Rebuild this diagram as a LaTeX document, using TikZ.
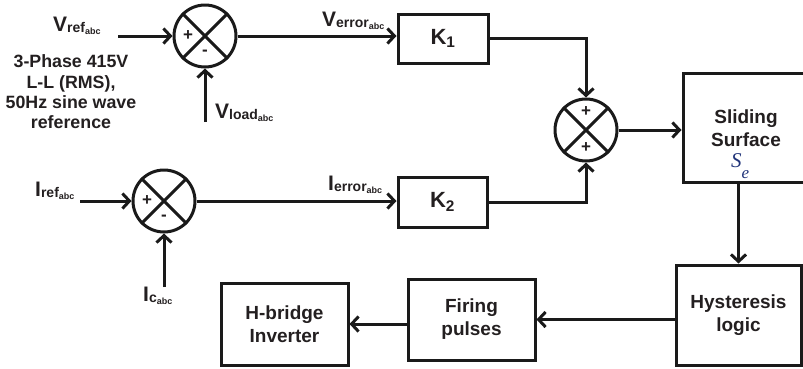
\documentclass[tikz,border=0pt]{standalone}
\usepackage{fontspec}
\setmainfont{Liberation Sans}
\newfontfamily\serifit{Liberation Serif}
\usepackage{xcolor}
\usepackage{tikz}
\usetikzlibrary{calc,arrows.meta,positioning}
\definecolor{linec}{HTML}{1A1A1A}
\definecolor{textc}{HTML}{231F20}
\definecolor{sec}{HTML}{22357A}
\tikzset{
  ar/.style={-{Straight Barb[length=7pt,width=15pt]},line width=3pt,linec},
  wire/.style={line width=3pt,linec},
  blk/.style={draw=linec,line width=3pt,align=center,inner sep=0pt,text=textc,font=\fontsize{19}{23}\selectfont\bfseries},
  sumc/.style={draw=linec,circle,line width=3pt,minimum size=62pt,inner sep=0pt},
  lbl/.style={font=\fontsize{17.8}{20.3}\selectfont\bfseries,text=textc,inner sep=0pt},
  sgn/.style={font=\fontsize{17}{17}\selectfont\bfseries,text=textc,inner sep=0pt}
}
\newcommand{\sigl}[2]{{\fontsize{21}{21}\selectfont #1}\raisebox{-1pt}{\fontsize{14}{14}\selectfont #2\raisebox{-2pt}{\fontsize{9}{9}\selectfont abc}}}
\newcommand{\crossx}[1]{\draw[wire] (#1.45)--(#1.225) (#1.135)--(#1.315);}
\begin{document}
\begin{tikzpicture}[x=1pt,y=-1pt]
\useasboundingbox (0,0) rectangle (803,368);
% summing junctions
\node[sumc] (sv) at (205,36) {};
\node[sumc] (si) at (164,201) {};
\node[sumc] (sk) at (586,130) {};
\foreach \s in {sv,si,sk} {\crossx{\s}}
\node[sgn] (svp) at ($(sv)+(-17,0)$) {+};
\node[sgn] (svm) at ($(sv)+(0,17)$) {-};
\node[sgn] (sip) at ($(si)+(-17,0)$) {+};
\node[sgn] (sim) at ($(si)+(0,17)$) {-};
\node[sgn] (skt) at ($(sk)+(0,-18)$) {+};
\node[sgn] (skb) at ($(sk)+(0,18)$) {+};
% blocks
\node[blk,minimum width=90pt,minimum height=49pt,font=\fontsize{22}{22}\selectfont\bfseries] (k1) at (443,38.5) {K\textsubscript{1}};
\node[blk,minimum width=89pt,minimum height=50pt,font=\fontsize{22}{22}\selectfont\bfseries] (k2) at (442.5,202) {K\textsubscript{2}};
\node[blk,minimum width=140pt,minimum height=109pt] (slide) at (753,127.5) {};
\node[blk,draw=none] (slidet) at (746,128) {Sliding\\Surface};
\node[text=sec,inner sep=0pt,anchor=base west,font=\serifit\itshape\fontsize{21}{21}\selectfont] (sev) at (731,167) {S\raisebox{-11pt}{\fontsize{17}{17}\selectfont e}};
\node[blk,minimum width=125pt,minimum height=100pt] (hyst) at (738.5,315) {Hysteresis\\logic};
\node[blk,minimum width=127pt,minimum height=81pt] (fire) at (471.5,319.5) {Firing\\pulses};
\node[blk,minimum width=127pt,minimum height=82pt] (hbr) at (284.5,324) {H-bridge\\Inverter};
% signal labels
\node[lbl,anchor=base west] (vref) at (53,31) {\sigl{V}{ref}};
\node[lbl,align=center] (vnote) at (71,92) {3-Phase 415V\\L-L (RMS),\\50Hz sine wave\\reference};
\node[lbl,anchor=base west] (vload) at (215,118) {\sigl{V}{load}};
\node[lbl,anchor=base west] (verr) at (322,26) {\sigl{V}{error}};
\node[lbl,anchor=base west] (iref) at (35,196) {\sigl{I}{ref}};
\node[lbl,anchor=base west] (ierr) at (328,190) {\sigl{I}{error}};
\node[lbl,anchor=base west] (ic) at (143,301) {\sigl{I}{c}};
% connectors
\coordinate (vin) at (118,36);
\coordinate (vlo) at (205,122);
\coordinate (iin) at (80,201);
\coordinate (ilo) at (164,287);
\draw[ar] (vin) -- (sv.west);
\draw[ar] (vlo) -- (sv.south);
\draw[ar] (sv.east) -- (sv.east -| k1.west);
\draw[ar] (k1.east) -| (sk.north);
\draw[ar] (iin) -- (si.west);
\draw[ar] (ilo) -- (si.south);
\draw[ar] (si.east) -- (si.east -| k2.west);
\draw[ar] (k2.east) -| (sk.south);
\draw[ar] (sk.east) -- (sk.east -| slide.west);
\draw[ar] (slide.south -| hyst.north) -- (hyst.north);
\draw[ar] (fire.east -| hyst.west) -- (fire.east);
\draw[ar] (hbr.east -| fire.west) -- (hbr.east);
\end{tikzpicture}
\end{document}
